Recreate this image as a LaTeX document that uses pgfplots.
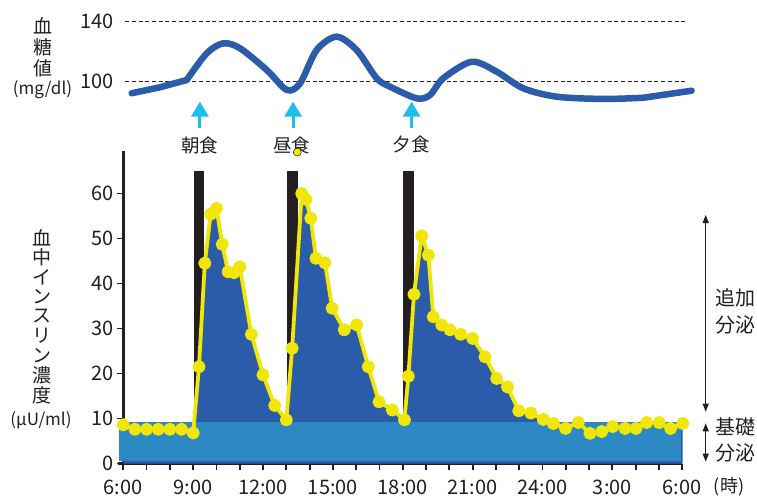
\documentclass[border=0pt]{standalone}
\usepackage{pgfplots}
\pgfplotsset{compat=1.18}
\usepackage{pgfplotstable}
\usepackage{fontspec}
\setmainfont{Noto Sans CJK JP}
\usetikzlibrary{arrows.meta}

\definecolor{insdark}{RGB}{42,92,170}
\definecolor{basal}{RGB}{45,137,195}
\definecolor{ylw}{RGB}{240,230,10}
\definecolor{ink}{RGB}{35,31,32}
\definecolor{cyanarrow}{RGB}{30,190,235}

% hours counted from 6 (=6:00) to 30 (=6:00 next day)
\pgfplotstableread{
h v
6.00 8.6
6.50 7.6
7.00 7.6
7.50 7.6
8.00 7.6
8.50 7.6
9.00 6.8
9.25 21.5
9.50 44.5
9.75 55.4
10.00 56.7
10.25 48.7
10.50 42.6
10.75 42.4
11.00 43.7
11.50 28.7
12.00 19.7
12.50 12.9
13.00 9.7
13.25 25.6
13.66 60.0
13.84 58.7
14.05 54.5
14.27 45.6
14.66 44.6
14.97 34.5
15.49 29.7
16.02 30.8
16.52 21.5
16.98 13.7
17.55 11.9
18.07 9.7
18.24 19.4
18.48 37.6
18.81 50.6
19.10 46.3
19.31 32.6
19.67 30.8
20.03 29.7
20.49 28.7
21.00 27.8
21.53 23.7
22.03 18.9
22.50 17.0
22.98 11.7
23.50 11.2
24.03 9.8
24.46 8.9
24.99 7.8
25.54 9.1
26.04 6.7
26.54 7.1
27.01 8.2
27.54 7.8
28.01 7.8
28.47 9.1
29.01 9.1
29.50 7.8
30.02 8.9
}\insulin

\pgfplotstableread{
h g
8.72 101.1
9.58 118.9
10.29 125.6
11.01 122.3
12.16 107.8
13.02 94.5
13.59 98.9
14.30 121.1
15.16 130.0
16.02 121.1
16.88 102.3
17.45 96.7
18.60 88.9
19.17 91.1
19.74 102.3
20.96 113.3
22.03 106.7
23.17 95.6
24.61 90.0
26.61 88.5
28.33 89.3
}\glucose

\begin{document}
\begin{tikzpicture}[x=1pt,y=1pt]
\path[use as bounding box] (0,0) rectangle (757,496);

% ---- blood glucose (top)
\begin{axis}[
  at={(123.3pt,354.3pt)}, anchor=south west,
  x=23.29pt, y=1.5pt,
  xmin=6, xmax=30, ymin=60, ymax=140,
  clip=false,
  axis x line=none, axis y line*=left,
  y axis line style={draw=none},
  ytick={100,140}, yticklabels={100,140},
  major tick length=0pt,
  yticklabel style={font=\fontsize{20}{24}\selectfont, text=ink, xshift=-6pt},
]
\addplot[ink, line width=0.8pt, dash pattern=on 4pt off 2.7pt] coordinates {(6.08,140) (30.1,140)};
\addplot[ink, line width=0.8pt, dash pattern=on 4pt off 2.7pt] coordinates {(6.08,100) (30.1,100)};
\addplot[insdark, line width=6.5pt, line cap=round] coordinates {(6.36,92.3) (7.58,96.3) (8.72,101.1)};
\addplot[insdark, line width=6.5pt, line cap=round, smooth] table {\glucose};
\addplot[insdark, line width=6.5pt, line cap=round] coordinates {(28.33,89.3) (30.4,94.0)};

\foreach \m in {9.29,13.29,18.38}{
  \edef\tmp{\noexpand\draw[cyanarrow, line width=3pt, -{Triangle[width=17pt,length=15pt]}]
    (axis cs:\m,69.3) -- (axis cs:\m,86.7);}\tmp
}
\node[font=\fontsize{18.5}{20}\selectfont, text=ink] at (axis cs:9.28,57.8) {朝食};
\node[font=\fontsize{18.5}{20}\selectfont, text=ink] at (axis cs:13.23,57.8) {昼食};
\node[font=\fontsize{18.5}{20}\selectfont, text=ink] at (axis cs:18.37,57.8) {夕食};
\end{axis}

% ---- blood insulin (bottom)
\begin{axis}[
  at={(123.3pt,32.5pt)}, anchor=south west,
  x=23.29pt, y=4.5pt,
  xmin=6, xmax=30, ymin=0, ymax=69.5,
  clip=false,
  axis x line*=bottom, axis y line*=left,
  axis line style={line width=2.4pt, color=ink},
  x axis line style={shorten <=-5pt},
  tick align=outside,
  major tick length=6pt, minor tick length=6pt,
  every tick/.style={line width=1.8pt, color=ink},
  xtick={6,9,...,30},
  xticklabels={6:00,9:00,12:00,15:00,18:00,21:00,24:00,3:00,6:00},
  minor xtick={6,...,30},
  ytick={0,10,...,60},
  yticklabels={0,10,20,30,40,50,60},
  ticklabel style={font=\fontsize{20}{24}\selectfont, text=ink},
  xticklabel style={yshift=-7pt},
]
% meals
\addplot[fill=ink, draw=none] coordinates {(9.05,-0.35) (9.48,-0.35) (9.48,65) (9.05,65)};
\addplot[fill=ink, draw=none] coordinates {(13.04,-0.35) (13.49,-0.35) (13.49,65) (13.04,65)};
\addplot[fill=ink, draw=none] coordinates {(18.00,-0.35) (18.48,-0.35) (18.48,65) (18.00,65)};
% bolus area
\addplot[fill=insdark, draw=none] table {\insulin} \closedcycle;
% basal band
\addplot[fill=basal, draw=none] coordinates {(5.82,0.6) (29.95,0.6) (29.95,9.3) (5.82,9.3)};
% measured insulin
\addplot[ylw, line width=3.8pt, line join=round, mark=*, mark size=4.6pt,
  mark options={fill=ylw, draw=none}] table {\insulin};
\addplot[only marks, mark=*, mark size=4pt, mark options={fill=ylw, draw=none}] coordinates {(13.47,69.2)};
\end{axis}

% labels
\foreach \c [count=\i] in {血,糖,値}
  \node[font=\fontsize{19}{20}\selectfont, text=ink, inner sep=0pt] at (42.5,{496-26-(\i-1)*21.3}) {\c};
\node[font=\fontsize{17}{20}\selectfont, text=ink, inner sep=0pt] at (42.5,406) {(mg/dl)};

\foreach \c [count=\i] in {血,中,イ,ン,ス,リ,ン,濃,度}
  \node[font=\fontsize{19}{20}\selectfont, text=ink, inner sep=0pt] at (41.5,{496-238-(\i-1)*19.6}) {\c};
\node[font=\fontsize{17}{20}\selectfont, text=ink, inner sep=0pt] at (41,76) {(μU/ml)};

\node[font=\fontsize{18}{20}\selectfont, text=ink, inner sep=0pt] at (729,9) {(時)};

\draw[ink, line width=1.1pt, {Triangle[width=6pt,length=8pt]}-{Triangle[width=6pt,length=8pt]}] (705.7,281) -- (705.7,84.3);
\draw[ink, line width=1.1pt, {Triangle[width=6pt,length=8pt]}-{Triangle[width=6pt,length=8pt]}] (705.7,72.7) -- (705.7,34.3);
\node[font=\fontsize{20}{20}\selectfont, text=ink, inner sep=0pt] at (735,198) {追加};
\node[font=\fontsize{20}{20}\selectfont, text=ink, inner sep=0pt] at (735,171) {分泌};
\node[font=\fontsize{20}{20}\selectfont, text=ink, inner sep=0pt] at (735,69.3) {基礎};
\node[font=\fontsize{20}{20}\selectfont, text=ink, inner sep=0pt] at (735,42.7) {分泌};
\end{tikzpicture}
\end{document}
